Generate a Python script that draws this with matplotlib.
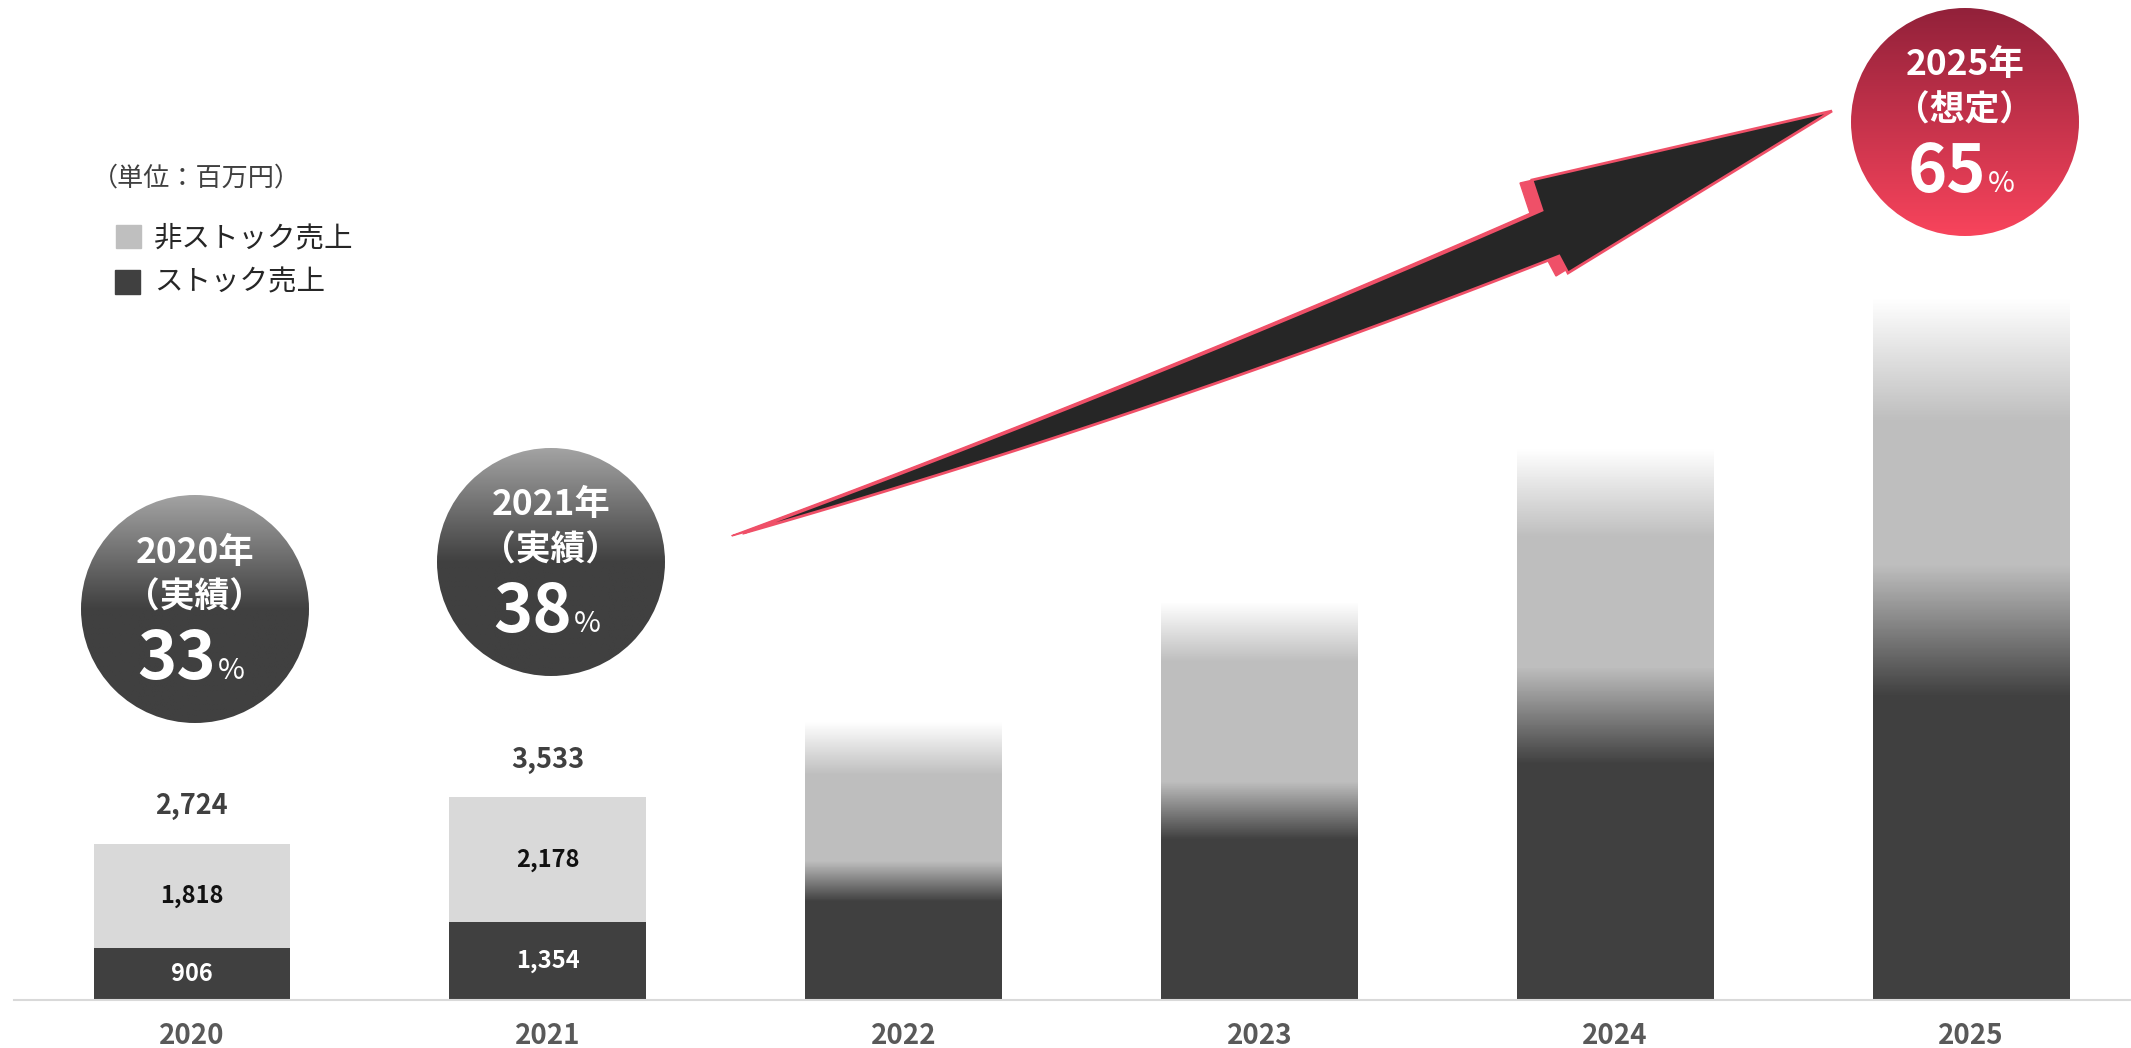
import numpy as np
import matplotlib.pyplot as plt
from matplotlib.patches import Circle, Polygon, Rectangle
from matplotlib.colors import to_rgb

plt.rcParams['font.family'] = ['Noto Sans CJK JP', 'DejaVu Sans']

# データ（単位：百万円）
years = ['2020', '2021', '2022', '2023', '2024', '2025']
stock = [906, 1354, 2060, 3290, 4950, 6430]          # ストック売上
non_stock = [1818, 2178, 2770, 3630, 4640, 5790]     # 非ストック売上
reported_total = [2724, 3533]                        # 実績年の合計（表示値）
actual = [True, True, False, False, False, False]    # 2022以降は見込み

badge_years = ['2020', '2021', '2025']
badge_notes = ['（実績）', '（実績）', '（想定）']
badge_pct = [33, 38, 65]

DARK = '#404040'
LIGHT = '#D9D9D9'
LIGHT2 = '#BEBEBE'
RED = '#EF5068'

# グラデーション幅（棒の高さに対する割合）
trans_frac = [0, 0, 0.145, 0.145, 0.176, 0.187]
fade_frac = [0, 0, 0.19, 0.15, 0.16, 0.175]

W, H = 2131, 1048
fig = plt.figure(figsize=(W / 100, H / 100), dpi=100)

# ---- main bar axes ----
ax = fig.add_axes([14 / W, 48 / H, 1 - 14 / W, 1000 / H])
x = np.arange(len(years))
bw = 0.553


def column(s, n, tf, ff, npx=600):
    top = s + n
    y = np.linspace(0, top, npx)
    t = tf * top
    f = ff * top
    dark = np.array(to_rgb(DARK))
    mid = np.array(to_rgb(LIGHT2))
    a = np.clip((y - (s - t / 2)) / t, 0, 1)[:, None]
    col = dark * (1 - a) + mid * a
    b = np.clip((y - (top - f)) / f, 0, 1)[:, None]
    col = col * (1 - b) + np.ones(3) * b
    return np.repeat(col[:, None, :], 2, axis=1)


for i in x:
    s, n = stock[i], non_stock[i]
    if actual[i]:
        ax.bar(i, s, bw, color=DARK, zorder=2)
        ax.bar(i, n, bw, bottom=s, color=LIGHT, zorder=2)
        ax.text(i, s / 2, f'{s:,}', ha='center', va='center', color='white',
                fontsize=17, fontweight='bold', zorder=3)
        ax.text(i, s + n / 2, f'{n:,}', ha='center', va='center', color='#111111',
                fontsize=17, fontweight='bold', zorder=3)
        ax.annotate(f'{reported_total[i]:,}', xy=(i, s + n), xytext=(0, 27),
                    textcoords='offset points', ha='center', va='center',
                    color=DARK, fontsize=19.5, fontweight='bold')
    else:
        ax.imshow(column(s, n, trans_frac[i], fade_frac[i]),
                  extent=[i - bw / 2, i + bw / 2, 0, s + n], origin='lower',
                  aspect='auto', interpolation='nearest', zorder=2)

ax.set_xlim(-0.5, 5.45)
ax.set_ylim(0, 17430)
for sp in ['top', 'left', 'right']:
    ax.spines[sp].set_visible(False)
ax.spines['bottom'].set_color(LIGHT)
ax.spines['bottom'].set_linewidth(1.5)
ax.set_yticks([])
ax.set_xticks(x, years)
ax.tick_params(axis='x', length=0, pad=16, labelsize=20, labelcolor='#595959')
for lbl in ax.get_xticklabels():
    lbl.set_fontweight('bold')
ax.patch.set_alpha(0)

# ---- overlay in pixel coords: badges, arrow, legend ----
ov = fig.add_axes([0, 0, 1, 1])
ov.set_zorder(3)
ov.patch.set_alpha(0)
ov.axis('off')


def grad(stops, n=300):
    p = np.linspace(0, 1, n)
    pos = [s[0] for s in stops]
    cols = np.array([to_rgb(s[1]) for s in stops])
    img = np.stack([np.interp(p, pos, cols[:, k]) for k in range(3)], axis=1)
    return np.repeat(img[:, None, :], 2, axis=1)


badge_pos = [(195, 609), (551, 562), (1965, 122)]
badge_grad = [
    [(0, '#A3A3A3'), (0.5, '#404040'), (1, '#404040')],
    [(0, '#A3A3A3'), (0.5, '#404040'), (1, '#404040')],
    [(0, '#92213A'), (1, '#F8445C')],
]
r = 114
for (cx, cy), yr, note, pct, st in zip(badge_pos, badge_years, badge_notes, badge_pct, badge_grad):
    im = ov.imshow(grad(st), extent=[cx - r, cx + r, cy + r, cy - r], origin='upper',
                   aspect='auto', interpolation='bilinear', zorder=3)
    c = Circle((cx, cy), r, transform=ov.transData, facecolor='none', edgecolor='none')
    ov.add_patch(c)
    im.set_clip_path(c)
    ov.text(cx, cy - 57, f'{yr}年', ha='center', va='center', color='white',
            fontsize=25.5, fontweight='bold', zorder=4)
    ov.text(cx, cy - 12, note, ha='center', va='center', color='white',
            fontsize=25, fontweight='bold', zorder=4)
    ov.text(cx + 21, cy + 70, f'{pct}', ha='right', va='baseline', color='white',
            fontsize=48, fontweight='bold', zorder=4)
    ov.text(cx + 23, cy + 70, '%', ha='left', va='baseline', color='white',
            fontsize=21, zorder=4)

# arrow
ux = [744, 960, 1100, 1300, 1480, 1542]
uy = [533, 450, 395, 315, 237, 210]
lx = [744, 960, 1100, 1300, 1480, 1559]
ly = [533, 470, 418, 357, 287, 255]
pu = np.polyfit(ux, uy, 2)
pl = np.polyfit(lx, ly, 2)
xu = np.linspace(744, 1542, 60)
xl = np.linspace(1559, 744, 60)
pts = np.vstack([
    np.column_stack([xu, np.polyval(pu, xu)]),
    [[1532, 180], [1832, 111], [1568, 273]],
    np.column_stack([xl, np.polyval(pl, xl)]),
])
ov.add_patch(Polygon(pts + [-12, 3], closed=True, facecolor=RED, edgecolor=RED, lw=1, zorder=2))
ov.add_patch(Polygon(pts, closed=True, facecolor='#262626', edgecolor=RED, lw=2.0,
                     joinstyle='miter', zorder=2))

# legend
ov.text(92, 178, '（単位：百万円）', ha='left', va='center', color='#404040', fontsize=18.8)
ov.add_patch(Rectangle((116, 225), 25, 23, color='#BFBFBF'))
ov.add_patch(Rectangle((115, 270), 25, 24, color=DARK))
ov.text(154, 238, '非ストック売上', ha='left', va='center', color='#262626', fontsize=20.5)
ov.text(154, 282, 'ストック売上', ha='left', va='center', color='#262626', fontsize=20.5)

ov.set_xlim(0, W)
ov.set_ylim(H, 0)

fig.savefig('out.png', dpi=100)
